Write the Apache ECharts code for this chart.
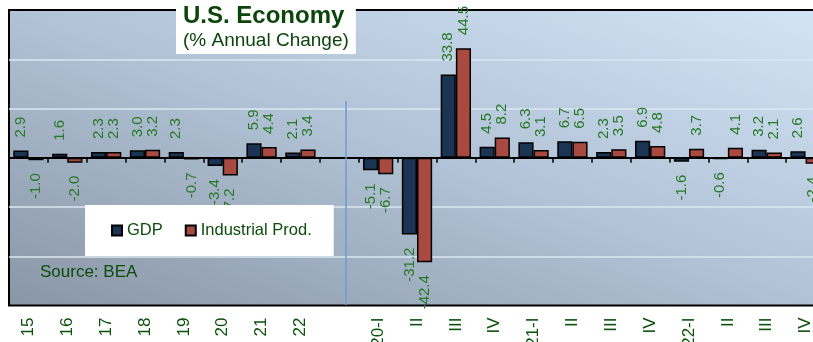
<!DOCTYPE html>
<html>
<head>
<meta charset="utf-8">
<script src="https://cdn.jsdelivr.net/npm/echarts@6/dist/echarts.min.js"></script>
<style>
  html, body { margin: 0; padding: 0; background: #ffffff; }
  #chart { width: 813px; height: 342px; }
</style>
</head>
<body>
<div id="chart"></div>
<script>
// Annual figures, a spacer column, then quarterly annualized rates
const categories = [
  '2015', '2016', '2017', '2018', '2019', '2020', '2021', '2022', 'spacer',
  '2020Q1', '2020Q2', '2020Q3', '2020Q4',
  '2021Q1', '2021Q2', '2021Q3', '2021Q4',
  '2022Q1', '2022Q2', '2022Q3', '2022Q4'
];
const tickLabels = [
  '15', '16', '17', '18', '19', '20', '21', '22', '',
  '20-I', 'II', 'III', 'IV',
  '21-I', 'II', 'III', 'IV',
  '22-I', 'II', 'III', 'IV'
];
const gdp = [
  2.9, 1.6, 2.3, 3.0, 2.3, -3.4, 5.9, 2.1, null,
  -5.1, -31.2, 33.8, 4.5,
  6.3, 6.7, 2.3, 6.9,
  -1.6, -0.6, 3.2, 2.6
];
const industrialProd = [
  -1.0, -2.0, 2.3, 3.2, -0.7, -7.2, 4.4, 3.4, null,
  -6.7, -42.4, 44.5, 8.2,
  3.1, 6.5, 3.5, 4.8,
  3.7, 4.1, 2.1, -2.4
];
const yMin = -60, yMax = 60, yStep = 20;

const FONT = '"Liberation Sans", Arial, sans-serif';
const DARK_GREEN = '#0c4d0c';
const LABEL_GREEN = '#267a26';
const GRID_LINE = '#dbe7f3';
const NONE = 'rgba(0,0,0,0)';

// Value labels sit past the end of each bar: above positives, below negatives
function barData(values) {
  return values.map(function (v) {
    if (v == null) return '-';
    return {
      value: v,
      label: v >= 0
        ? { position: 'top', align: 'left' }
        : { position: 'bottom', align: 'right' }
    };
  });
}

// No horizontal rule on the zero line or on the top/bottom frame
const splitColors = [];
for (let t = yMin; t <= yMax + 1e-9; t += yStep) {
  splitColors.push(t === 0 || t === yMin || t === yMax ? NONE : GRID_LINE);
}

const valueLabel = {
  show: true,
  rotate: 90,
  distance: 13,
  verticalAlign: 'middle',
  fontSize: 15,
  fontFamily: FONT,
  color: LABEL_GREEN,
  formatter: function (p) { return Number(p.value).toFixed(1); }
};

// Plot background shades from light (upper right) to dark (lower left),
// with bands running parallel to the frame's other diagonal
const plotShade = new echarts.graphic.LinearGradient(511, -103, 323, 418, [
  { offset: 0, color: '#d3e4f7' },
  { offset: 0.5, color: '#b1c2d6' },
  { offset: 1, color: '#8996a6' }
], true);

const chart = echarts.init(document.getElementById('chart'), null, { renderer: 'canvas' });

chart.setOption({
  animation: false,
  textStyle: { fontFamily: FONT },
  title: [
    {
      text: 'U.S. Economy',
      subtext: '(% Annual Change)',
      left: 176,
      top: 0,
      backgroundColor: '#ffffff',
      padding: [4, 7, 4, 7],
      itemGap: 3,
      textStyle: { fontSize: 24, fontWeight: 'bold', color: '#0b450b', fontFamily: FONT },
      subtextStyle: { fontSize: 19, color: '#0b450b', fontFamily: FONT }
    },
    {
      text: 'Source: BEA',
      left: 40,
      top: 264,
      padding: 0,
      textStyle: { fontSize: 17, fontWeight: 'normal', color: DARK_GREEN, fontFamily: FONT }
    }
  ],
  legend: {
    left: 85,
    top: 205,
    backgroundColor: '#ffffff',
    padding: [17, 22, 17, 26],
    icon: 'rect',
    itemWidth: 10,
    itemHeight: 10,
    itemGap: 22,
    textStyle: { fontSize: 16.5, color: DARK_GREEN, fontFamily: FONT },
    data: ['GDP', 'Industrial Prod.']
  },
  grid: {
    left: 9,
    right: -12,
    top: 10,
    bottom: 36.5,
    outerBoundsMode: 'none',
    containLabel: false,
    show: true,
    borderColor: '#000000',
    borderWidth: 2,
    backgroundColor: plotShade
  },
  xAxis: [
    {
      // category captions along the bottom of the frame
      type: 'category',
      data: categories,
      position: 'bottom',
      axisLine: { show: false, onZero: false },
      axisTick: { show: false },
      axisLabel: {
        interval: 0,
        rotate: 90,
        margin: 12,
        fontSize: 17,
        color: '#0b520b',
        fontFamily: FONT,
        formatter: function (v, i) { return tickLabels[i]; }
      }
    },
    {
      // zero line with boundary ticks
      type: 'category',
      data: categories,
      position: 'bottom',
      axisLine: { show: true, onZero: true, lineStyle: { color: '#000000', width: 2 } },
      axisTick: { show: true, interval: 0, length: 5, lineStyle: { color: '#000000', width: 1.5 } },
      axisLabel: { show: false }
    }
  ],
  yAxis: {
    type: 'value',
    min: yMin,
    max: yMax,
    interval: yStep,
    axisLine: { show: false },
    axisTick: { show: false },
    axisLabel: { show: false },
    splitLine: { show: true, lineStyle: { color: splitColors, width: 1.5 } }
  },
  graphic: [
    {
      type: 'line',
      z: 1,
      silent: true,
      shape: { x1: 346, y1: 101, x2: 346, y2: 305 },
      style: { stroke: '#6c9dd4', lineWidth: 1.5 }
    }
  ],
  series: [
    {
      name: 'GDP',
      type: 'bar',
      xAxisIndex: 0,
      barGap: '0%',
      barCategoryGap: '22%',
      itemStyle: { color: '#1b3454', borderColor: '#000000', borderWidth: 1.5 },
      label: valueLabel,
      data: barData(gdp)
    },
    {
      name: 'Industrial Prod.',
      type: 'bar',
      xAxisIndex: 0,
      barGap: '0%',
      barCategoryGap: '22%',
      itemStyle: { color: '#a94a41', borderColor: '#000000', borderWidth: 1.5 },
      label: valueLabel,
      data: barData(industrialProd)
    }
  ]
});
</script>
</body>
</html>
